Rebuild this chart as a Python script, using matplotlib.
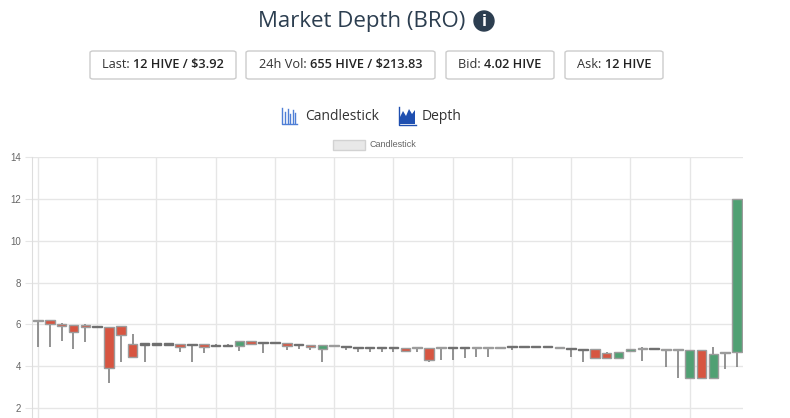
import numpy as np
import matplotlib
matplotlib.use("Agg")
import matplotlib.pyplot as plt
from matplotlib.patches import FancyBboxPatch, Ellipse, Polygon, Rectangle
from matplotlib.lines import Line2D

# ==============================
# Datos (velas BRO / HIVE)
# ==============================
opens = [6.17, 6.21, 6.03, 5.97, 5.95, 5.89, 5.89, 5.91, 5.06, 5.06,
         5.06, 5.06, 5.05, 5.05, 5.05, 4.97, 4.97, 4.96, 5.20, 5.11,
         5.11, 5.09, 5.03, 5.01, 4.84, 5.02, 4.92, 4.91, 4.91, 4.91,
         4.91, 4.88, 4.86, 4.85, 4.88, 4.91, 4.91, 4.92, 4.85, 4.92,
         4.92, 4.92, 4.92, 4.92, 4.92, 4.84, 4.81, 4.80, 4.64, 4.39,
         4.74, 4.82, 4.83, 4.84, 4.81, 3.45, 4.77, 3.45, 4.62, 4.69]
highs = [6.20, 6.21, 6.05, 5.97, 6.00, 5.89, 5.89, 5.91, 5.54, 5.06,
         5.06, 5.06, 5.05, 5.05, 5.05, 5.05, 5.05, 5.21, 5.20, 5.11,
         5.11, 5.09, 5.06, 5.01, 5.01, 5.02, 4.95, 4.91, 4.91, 4.91,
         4.91, 4.88, 4.89, 4.87, 4.93, 4.91, 4.91, 4.92, 4.92, 4.92,
         4.97, 4.92, 4.92, 4.92, 4.92, 4.84, 4.81, 4.80, 4.70, 4.69,
         4.80, 4.90, 4.83, 4.84, 4.81, 4.77, 4.77, 4.90, 4.69, 12.0]
lows = [4.90, 4.90, 5.22, 4.84, 5.17, 5.89, 3.18, 4.19, 4.42, 4.19,
        5.06, 5.06, 4.69, 4.19, 4.64, 4.97, 4.97, 4.71, 5.05, 4.64,
        5.11, 4.77, 4.80, 4.76, 4.21, 4.98, 4.75, 4.66, 4.66, 4.70,
        4.70, 4.73, 4.70, 4.21, 4.30, 4.30, 4.41, 4.45, 4.45, 4.86,
        4.79, 4.92, 4.92, 4.92, 4.85, 4.45, 4.21, 4.39, 4.40, 4.39,
        4.74, 4.25, 4.83, 3.98, 3.45, 3.45, 3.45, 3.45, 3.85, 3.95]
closes = [6.20, 6.02, 5.94, 5.63, 5.86, 5.89, 3.93, 5.48, 4.42, 5.06,
          5.06, 5.06, 4.92, 5.05, 4.94, 4.97, 4.97, 5.21, 5.08, 5.11,
          5.11, 4.95, 5.03, 4.92, 5.01, 4.98, 4.92, 4.91, 4.91, 4.91,
          4.91, 4.73, 4.89, 4.30, 4.93, 4.91, 4.91, 4.85, 4.92, 4.86,
          4.92, 4.92, 4.92, 4.92, 4.85, 4.84, 4.81, 4.39, 4.40, 4.69,
          4.80, 4.84, 4.83, 4.79, 4.76, 4.77, 3.45, 4.60, 4.69, 12.0]

y_ticks = [2, 4, 6, 8, 10, 12, 14]

stats = [("Last: ", "12 HIVE / $3.92"),
         ("24h Vol: ", "655 HIVE / $213.83"),
         ("Bid: ", "4.02 HIVE"),
         ("Ask: ", "12 HIVE")]

# ==============================
# Estilo
# ==============================
W, H = 790, 418
UP = "#50a073"
DOWN = "#d75541"
FLAT = "#6e6e6e"
EDGE = "#9c9c9c"
WICK = "#808080"
NAVY = "#2c3e50"
GRID = "#e6e6e6"


def fx(x):
    return x / W


def fy(y):
    return 1 - y / H


fig = plt.figure(figsize=(W / 100, H / 100), dpi=100)
fig.patch.set_facecolor("white")

# ==============================
# Gráfica de velas
# ==============================
ax = fig.add_axes([fx(32), 0, fx(743) - fx(32), fy(157)])
x = np.arange(len(opens))
o = np.array(opens)
c = np.array(closes)
hi = np.array(highs)
lo = np.array(lows)

ax.vlines(x, lo, hi, color=WICK, lw=1.2, zorder=2)

colors = []
edges = []
for oo, cc in zip(o, c):
    if abs(cc - oo) < 1e-9:
        colors.append(FLAT)
        edges.append("#707070")
    elif cc > oo:
        colors.append(UP)
        edges.append(EDGE)
    else:
        colors.append(DOWN)
        edges.append(EDGE)
bottoms = np.minimum(o, c)
heights = np.maximum(np.abs(c - o), 0.05)
bottoms = np.where(np.abs(c - o) < 0.05, (o + c) / 2 - 0.025, bottoms)
ax.bar(x, heights, bottom=bottoms, width=0.8, color=colors,
       edgecolor=edges, linewidth=1.0, zorder=3)

ax.set_xlim(-0.5, len(opens) - 0.5)
ax.set_ylim(2 - 10 / 20.92, 14)
ax.set_yticks(y_ticks)
ax.set_xticks(np.arange(0, len(opens), 5))
ax.set_xticklabels([])
ax.grid(True, color=GRID, lw=1)
ax.set_axisbelow(True)
ax.tick_params(axis="y", length=5, color=GRID, labelsize=7,
               labelcolor="#666666", pad=3)
ax.tick_params(axis="x", length=0)
for name, sp in ax.spines.items():
    sp.set_visible(name == "left")
ax.spines["left"].set_color("#dddddd")
for lab in ax.get_yticklabels():
    lab.set_family("Liberation Sans")

# ==============================
# Encabezado
# ==============================
fig.text(fx(362), fy(22), "Market Depth (BRO)", ha="center", va="center",
         fontsize=16, color=NAVY, family="Open Sans")
fig.patches.append(Ellipse((fx(484), fy(21)), 20 / W, 20 / H,
                           transform=fig.transFigure, color=NAVY))
fig.text(fx(484), fy(21.5), "i", ha="center", va="center", fontsize=10.5,
         color="white", weight="bold", family="DejaVu Sans")

boxes = [(90, 236), (246, 435), (446, 554), (565, 663)]
renderer = fig.canvas.get_renderer()
for (x0, x1), (lab, val) in zip(boxes, stats):
    fig.patches.append(FancyBboxPatch(
        (fx(x0), fy(79)), fx(x1 - x0), 28 / H, transform=fig.transFigure,
        boxstyle="round,pad=0,rounding_size=0.004", facecolor="white",
        edgecolor="#cccccc", lw=1))
    t1 = fig.text(0, fy(65), lab, va="center", fontsize=9.2,
                  color="#333333", family="Open Sans")
    t2 = fig.text(0, fy(65), val, va="center", fontsize=9.2,
                  color="#222222", family="Open Sans", weight="semibold")
    w1 = t1.get_window_extent(renderer).width
    w2 = t2.get_window_extent(renderer).width
    start = (x0 + x1) / 2 - (w1 + w2) / 2
    t1.set_x(fx(start))
    t2.set_x(fx(start + w1))

# pestañas
tab_blue = "#4f7fd6"
fig.lines.append(Line2D([fx(282), fx(282), fx(297)], [fy(108), fy(124), fy(124)],
                        transform=fig.transFigure, color=tab_blue, lw=1))
for bx, top in [(285, 112), (287.5, 109), (290, 114), (292.5, 110), (295, 113)]:
    fig.lines.append(Line2D([fx(bx), fx(bx)], [fy(122.5), fy(top)],
                            transform=fig.transFigure, color=tab_blue, lw=1))
fig.text(fx(305), fy(116), "Candlestick", va="center", fontsize=10,
         color="#333333", family="Open Sans")

depth_poly = [(400, 124), (400, 117), (403, 111), (406, 116), (409, 109),
              (412, 114), (415, 110), (415, 124)]
fig.patches.append(Polygon([(fx(a), fy(b)) for a, b in depth_poly],
                           closed=True, transform=fig.transFigure,
                           facecolor="#1f4fb0", edgecolor="none"))
fig.lines.append(Line2D([fx(399), fx(399), fx(416)], [fy(107), fy(124.5), fy(124.5)],
                        transform=fig.transFigure, color="#1f4fb0", lw=1))
fig.text(fx(422), fy(116), "Depth", va="center", fontsize=10,
         color="#333333", family="Open Sans")

# leyenda
fig.patches.append(Rectangle((fx(333), fy(150)), fx(32), 10 / H,
                             transform=fig.transFigure, facecolor="#e8e8e8",
                             edgecolor="#d2d2d2", lw=1))
fig.text(fx(370), fy(144.5), "Candlestick", va="center", fontsize=6.5,
         color="#666666", family="Liberation Sans")

fig.savefig("out.png", dpi=100)
